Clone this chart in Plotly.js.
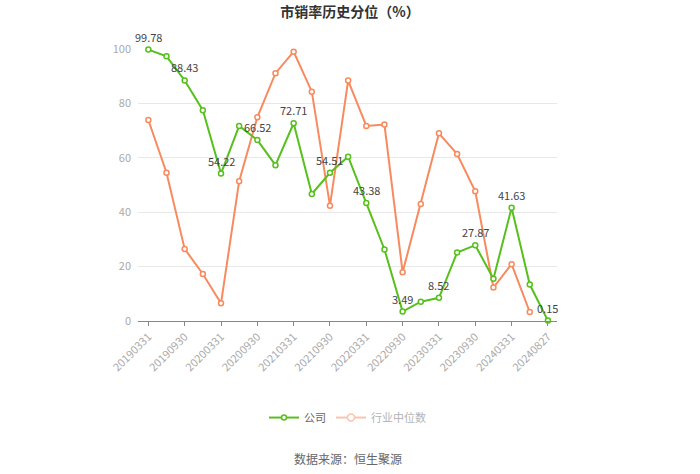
<!DOCTYPE html>
<html>
<head>
<meta charset="utf-8">
<script src="https://cdn.plot.ly/plotly-3.0.1.min.js"></script>
<style>html,body{margin:0;padding:0;background:#fff}#chart{width:700px;height:474px}</style>
</head>
<body>
<div id="chart"></div>
<script>
var dates = ["20190331","20190630","20190930","20191231","20200331","20200630","20200930","20201231","20210331","20210630","20210930","20211231","20220331","20220630","20220930","20221231","20230331","20230630","20230930","20231231","20240331","20240630","20240827"];
var company = [99.78,97.3,88.43,77.5,54.22,71.7,66.52,57.3,72.71,46.7,54.51,60.4,43.38,26.3,3.49,7.1,8.52,25.2,27.87,15.5,41.63,13.4,0.15];
var industry = [73.9,54.5,26.5,17.3,6.5,51.4,74.9,91.1,99.0,84.3,42.4,88.4,71.7,72.2,17.9,43.0,69.0,61.4,47.7,12.3,20.9,3.3,null];
var tickLabels = ["20190331","20190930","20200331","20200930","20210331","20210930","20220331","20220930","20230331","20230930","20240331","20240827"];
var nameCompany = "公司";
var nameIndustry = "行业中位数";
var green = "#57c01c";
var orange = "#f78a5e";

var font = "'Noto Sans CJK SC', 'Noto Sans', sans-serif";

var traces = [
  {x: dates, y: industry, type: "scatter", mode: "lines+markers", name: nameIndustry, showlegend: false, cliponaxis: false,
   line: {color: orange, width: 2}, marker: {symbol: "circle", size: 5, color: "#fff", line: {color: orange, width: 1.5}}, hoverinfo: "skip"},
  {x: dates, y: company, type: "scatter", mode: "lines+markers", name: nameCompany, cliponaxis: false,
   line: {color: green, width: 2}, marker: {symbol: "circle", size: 5, color: "#fff", line: {color: green, width: 1.5}}, hoverinfo: "skip"},
  {x: dates, y: industry, type: "scatter", mode: "lines+markers", name: nameIndustry, visible: "legendonly",
   line: {color: orange, width: 2}, marker: {symbol: "circle", size: 7, color: "#fff", line: {color: orange, width: 1.5}}}
];

var annotations = [];
company.forEach(function(v, i){
  if (i % 2 === 0) {
    annotations.push({x: i, y: v, xref: "x", yref: "y", text: v.toFixed(2), showarrow: false,
      yshift: 13, xanchor: "center", yanchor: "middle", font: {family: font, size: 11, color: "#444"}});
  }
});
annotations.push({text: "数据来源：恒生聚源", xref: "paper", yref: "paper", x: 0.5, xanchor: "center", y: -0.507, yanchor: "middle",
     showarrow: false, font: {family: font, size: 12, color: "#666"}});

var layout = {
  width: 700, height: 474,
  margin: {l: 138, r: 143, t: 49, b: 153},
  paper_bgcolor: "#fff", plot_bgcolor: "#fff",
  font: {family: font, size: 11, color: "#999"},
  title: {text: "<b>市销率历史分位（%）</b>", x: 0.5, xanchor: "center", y: 0.975, yanchor: "middle",
          font: {family: font, size: 14, color: "#333"}},
  showlegend: true,
  legend: {orientation: "h", x: 0.5, xanchor: "center", y: -0.355, yanchor: "middle", itemwidth: 30,
           font: {family: font, size: 11, color: "#666"}, itemclick: false, itemdoubleclick: false},
  xaxis: {type: "category", categoryorder: "array", categoryarray: dates,
          range: [-0.57, 22.5], tickmode: "array", tickvals: tickLabels, ticktext: tickLabels,
          tickangle: -45, showgrid: false, zeroline: false,
          showline: true, linecolor: "#888", linewidth: 1, ticks: "outside", ticklen: 4, tickcolor: "#888",
          tickfont: {family: font, size: 11, color: "#aaa"}, fixedrange: true},
  yaxis: {range: [0, 100], tickvals: [0,20,40,60,80,100], showgrid: true, gridcolor: "#e8e8e8", gridwidth: 1,
          zeroline: false, showline: false, ticks: "", ticklen: 0, ticklabelstandoff: 6,
          tickfont: {family: font, size: 11, color: "#aaa"}, fixedrange: true},
  annotations: annotations
};

Plotly.newPlot("chart", traces, layout, {displayModeBar: false});
</script>
</body>
</html>
